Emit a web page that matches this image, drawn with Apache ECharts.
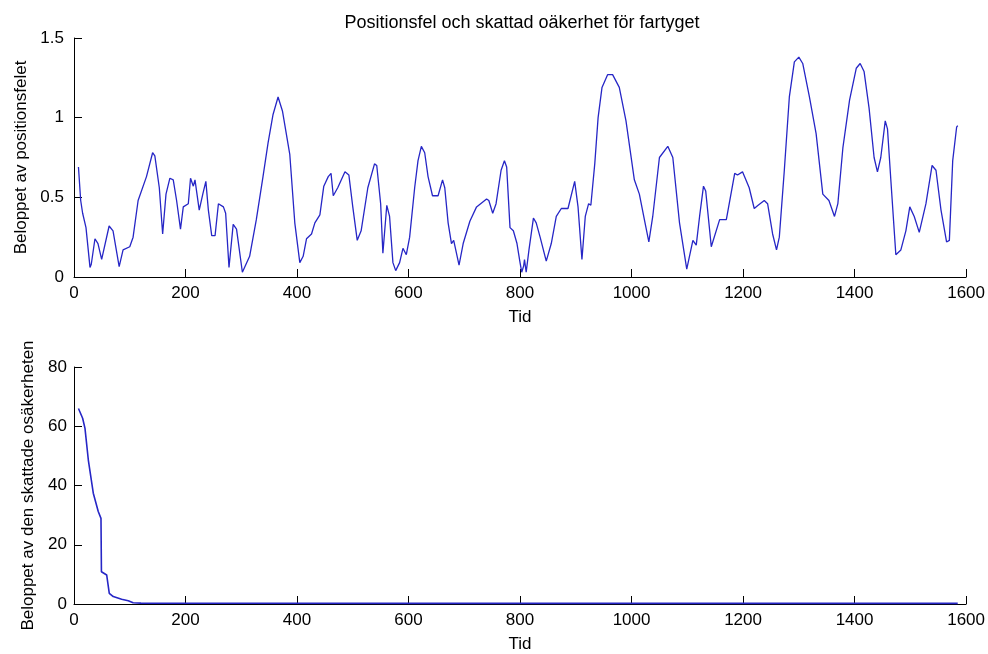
<!DOCTYPE html>
<html>
<head>
<meta charset="utf-8">
<script src="https://cdn.jsdelivr.net/npm/echarts@6/dist/echarts.min.js"></script>
<style>
html,body{margin:0;padding:0;background:#fff;}
#chart{width:988px;height:654px;}
</style>
</head>
<body>
<div id="chart"></div>
<script>
// ---- data ----
const titleText = 'Positionsfel och skattad oäkerhet för fartyget';
const xName = 'Tid';
const yNameTop = 'Beloppet av positionsfelet';
const yNameBottom = 'Beloppet av den skattade osäkerheten';

const xTicks = [0, 200, 400, 600, 800, 1000, 1200, 1400, 1600];
const yTicksTop = [0, 0.5, 1, 1.5];
const yTicksBottom = [0, 20, 40, 60, 80];

const tTop = [8,12,15.5,21.5,28.7,31,37.6,43,49.6,63,70,81,88,100,106,115,130,141,145,153,159,165,172,178,184,191,196,205,209,214,217,224.6,231,236.5,241,247,253,259,268,272,278,285.5,291.5,302,315,327,339,348,357,366,374,387,396,405,411,417,426,432,441,448,456,461,465,473,486,493,500,508,515,527,539,543,550,554,561,566,572,577,584,590,596,602,611,617,623,629,635,643,653,661,665,671,677,681,690.6,698,710,722,740,744,751,757,766,772,776,782,788,794.5,800,803,806.5,808,811,814,816,824,829,836,847,856,865,874,886,898,904,911,917,923,927,934,940,947,957,966,978,990,1005,1014,1023,1031,1038,1050,1065,1074,1086,1099,1110,1116,1122,1129,1133,1143,1158,1170,1185,1190,1199,1211,1220,1227,1238,1244,1253,1260,1265,1274,1283,1292,1300,1307,1319,1331,1343,1354,1364,1370,1379,1391,1403,1410,1417,1426,1435,1441,1447,1455,1459,1465,1474,1483,1492,1499,1507,1516,1528,1539,1546,1555,1565,1570,1576,1583,1585];
const vTop = [0.69,0.48,0.40,0.31,0.06,0.08,0.24,0.21,0.11,0.32,0.29,0.065,0.17,0.19,0.25,0.48,0.63,0.78,0.76,0.56,0.27,0.52,0.62,0.61,0.48,0.30,0.44,0.46,0.62,0.57,0.61,0.42,0.52,0.60,0.42,0.26,0.26,0.46,0.44,0.40,0.06,0.33,0.30,0.03,0.13,0.36,0.63,0.84,1.02,1.13,1.04,0.77,0.34,0.09,0.13,0.24,0.27,0.34,0.39,0.57,0.63,0.65,0.51,0.56,0.66,0.64,0.44,0.23,0.29,0.56,0.71,0.70,0.46,0.15,0.45,0.38,0.09,0.04,0.09,0.18,0.14,0.25,0.56,0.73,0.82,0.78,0.63,0.51,0.51,0.61,0.56,0.34,0.21,0.23,0.075,0.21,0.35,0.44,0.49,0.48,0.40,0.46,0.67,0.73,0.69,0.31,0.29,0.21,0.09,0.03,0.07,0.11,0.03,0.03,0.17,0.37,0.34,0.25,0.10,0.21,0.38,0.43,0.43,0.60,0.44,0.11,0.38,0.46,0.45,0.71,1.00,1.19,1.27,1.27,1.19,0.98,0.61,0.52,0.36,0.22,0.38,0.75,0.82,0.75,0.34,0.05,0.23,0.20,0.38,0.57,0.54,0.19,0.36,0.36,0.65,0.64,0.66,0.56,0.43,0.45,0.48,0.46,0.27,0.17,0.25,0.67,1.13,1.35,1.38,1.34,1.13,0.90,0.52,0.48,0.38,0.46,0.81,1.11,1.31,1.34,1.29,1.06,0.75,0.66,0.75,0.98,0.93,0.61,0.14,0.17,0.29,0.44,0.38,0.28,0.46,0.70,0.67,0.42,0.22,0.23,0.73,0.94,0.95];

const tBottom = [8,15.5,19.7,25.7,34.6,43.5,48.4,49.2,58.6,61,63.3,70.4,85.4,97.3,106,120,300,600,900,1200,1585];
const vBottom = [66,62.7,59.3,48.6,37.4,31.2,28.9,10.9,9.8,9.5,3.6,2.5,1.6,1.1,0.4,0.3,0.25,0.22,0.2,0.2,0.2];

// ---- chart ----
const FONT = '"Liberation Sans", Arial, sans-serif';
const LINE_COLOR = '#2626c6';
const pairs = (xs, ys) => xs.map((x, i) => [x, ys[i]]);
const plainNum = v => String(v);

function xAxisCfg(gridIndex) {
  return {
    type: 'value', gridIndex: gridIndex,
    min: xTicks[0], max: xTicks[xTicks.length - 1], interval: xTicks[1] - xTicks[0],
    name: xName, nameLocation: 'middle', nameGap: 32,
    nameTextStyle: { color: '#000', fontSize: 17, fontFamily: FONT },
    axisLine: { show: true, lineStyle: { color: '#000', width: 1 } },
    axisTick: { show: true, inside: true, length: 8, lineStyle: { color: '#000' } },
    axisLabel: { color: '#000', fontSize: 17, fontFamily: FONT, margin: 8, formatter: plainNum },
    splitLine: { show: false }
  };
}
function yAxisCfg(gridIndex, ticks, name, gap, labelMargin) {
  return {
    type: 'value', gridIndex: gridIndex,
    min: ticks[0], max: ticks[ticks.length - 1], interval: ticks[1] - ticks[0],
    name: name, nameLocation: 'middle', nameRotate: 90, nameGap: gap,
    nameTextStyle: { color: '#000', fontSize: 17, fontFamily: FONT },
    axisLine: { show: true, lineStyle: { color: '#000', width: 1 } },
    axisTick: { show: true, inside: true, length: 8, lineStyle: { color: '#000' } },
    axisLabel: { color: '#000', fontSize: 17, fontFamily: FONT, margin: labelMargin, formatter: plainNum },
    splitLine: { show: false }
  };
}

const chart = echarts.init(document.getElementById('chart'), null, { renderer: 'canvas' });
chart.setOption({
  backgroundColor: '#fff',
  animation: false,
  title: {
    text: titleText, left: 517, textAlign: 'center', top: 9,
    textStyle: { color: '#000', fontSize: 18, fontWeight: 'normal', fontFamily: FONT }
  },
  grid: [
    { left: 74, right: 21, top: 38, height: 239 },
    { left: 74, right: 21, top: 367, height: 237 }
  ],
  xAxis: [xAxisCfg(0), xAxisCfg(1)],
  yAxis: [
    yAxisCfg(0, yTicksTop, yNameTop, 39, 10),
    yAxisCfg(1, yTicksBottom, yNameBottom, 36, 7)
  ],
  series: [
    { type: 'line', xAxisIndex: 0, yAxisIndex: 0, data: pairs(tTop, vTop),
      showSymbol: false, lineStyle: { color: LINE_COLOR, width: 1.3 } },
    { type: 'line', xAxisIndex: 1, yAxisIndex: 1, data: pairs(tBottom, vBottom),
      showSymbol: false, lineStyle: { color: LINE_COLOR, width: 1.6 } }
  ]
});
</script>
</body>
</html>
